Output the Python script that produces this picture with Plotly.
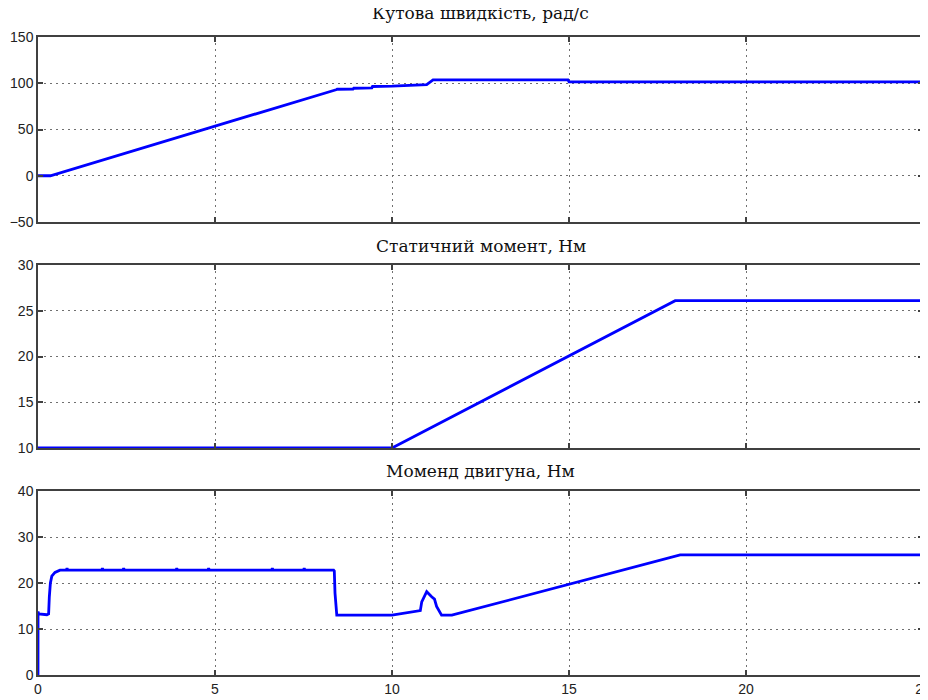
import plotly.graph_objects as go

# ---- Data ----
t_speed = [0, 0.35, 8.42, 8.45, 8.9, 8.92, 9.43, 9.45, 10.0, 10.6, 10.98, 11.16, 14.97, 15.0, 25]
speed = [0, 0, 93.0, 93.5, 93.8, 94.6, 95.0, 96.5, 96.8, 98.0, 98.5, 103.6, 103.6, 101.5, 101.5]

t_static = [0, 10.0, 18.0, 25]
static_torque = [10, 10, 26.1, 26.1]

t_motor = [0, 0.001, 0.02, 0.25, 0.3, 0.32, 0.35, 0.39, 0.48, 0.62, 0.8, 0.82, 0.84,
           1.8, 1.82, 1.84, 2.4, 2.42, 2.44, 3.9, 3.92, 3.94, 4.8, 4.82, 4.84,
           6.6, 6.62, 6.64, 7.5, 7.52, 7.54, 8.35, 8.37, 8.39, 8.44,
           10.0, 10.23, 10.56, 10.8, 10.84, 10.98, 11.12, 11.2, 11.26, 11.4, 11.69,
           18.14, 25]
motor_torque = [0, 13.8, 13.3, 13.1, 13.3, 17.0, 20.0, 21.5, 22.3, 22.8, 22.8, 23.2, 22.8,
                22.8, 23.2, 22.8, 22.8, 23.2, 22.8, 22.8, 23.2, 22.8, 22.8, 23.2, 22.8,
                22.8, 23.2, 22.8, 22.8, 23.2, 22.8, 22.8, 22.6, 17.8, 13.0,
                13.0, 13.3, 13.7, 14.0, 15.9, 18.1, 17.0, 16.5, 14.9, 13.0, 13.0,
                26.1, 26.1]

titles = ["Кутова швидкість, рад/с", "Статичний момент, Нм", "Моменд двигуна, Нм"]
y_ranges = [[-50, 150], [10, 30], [0, 40]]
y_dticks = [50, 5, 10]
x_range = [0, 25]
x_dtick = 5

# ---- Layout geometry (pixels, page coords; page has 8px body margin) ----
OFF = 8
W, H = 928 - OFF, 700 - OFF
ml, mt = 38 - OFF, 37 - OFF
plot_bottom, plot_right = 675 - OFF, 923 - OFF
mr, mb = W - plot_right, H - plot_bottom
plot_h = plot_bottom - mt
panels_px = [(37, 222), (265, 448), (491, 675)]
domains = [[(675 - b) / plot_h, (675 - t) / plot_h] for (t, b) in panels_px]

fig = go.Figure()
series = [(t_speed, speed), (t_static, static_torque), (t_motor, motor_torque)]
for i, (xs, ys) in enumerate(series):
    fig.add_trace(go.Scatter(
        x=xs, y=ys, mode="lines",
        line=dict(color="#0000FF", width=2.8),
        xaxis="x" if i == 0 else f"x{i+1}",
        yaxis="y" if i == 0 else f"y{i+1}",
        showlegend=False,
    ))

axis_common = dict(
    showline=True, linecolor="#404040", linewidth=1.5, mirror="ticks",
    ticks="inside", ticklen=5, tickwidth=1.5, tickcolor="#404040",
    showgrid=True, gridcolor="#707070", griddash="1.5px,4.5px", gridwidth=1.3,
    zeroline=False,
    tickfont=dict(family="Liberation Sans, Arial, sans-serif", size=14, color="#222222"),
)

layout = dict(
    width=W, height=H,
    margin=dict(l=ml, r=mr, t=mt, b=mb, autoexpand=False),
    paper_bgcolor="white", plot_bgcolor="white",
    showlegend=False,
)
for i in range(3):
    xk = "xaxis" if i == 0 else f"xaxis{i+1}"
    yk = "yaxis" if i == 0 else f"yaxis{i+1}"
    ya = "y" if i == 0 else f"y{i+1}"
    xa = "x" if i == 0 else f"x{i+1}"
    layout[xk] = dict(axis_common, range=x_range, dtick=x_dtick, tick0=0,
                      anchor=ya, domain=[0, 1], showticklabels=(i == 2),
                      ticklabeloverflow="allow")
    layout[yk] = dict(axis_common, range=y_ranges[i], dtick=y_dticks[i],
                      anchor=xa, domain=domains[i], ticklabeloverflow="allow")
fig.update_layout(**layout)

title_y_px = [13, 246, 471]
for i, txt in enumerate(titles):
    fig.add_annotation(
        text=txt, xref="paper", yref="paper",
        x=0.5, y=(675 - title_y_px[i]) / plot_h,
        xanchor="center", yanchor="middle", showarrow=False,
        font=dict(family="DejaVu Serif, Liberation Serif, serif", size=17, color="#111111"),
    )

fig.write_html("out.html")
